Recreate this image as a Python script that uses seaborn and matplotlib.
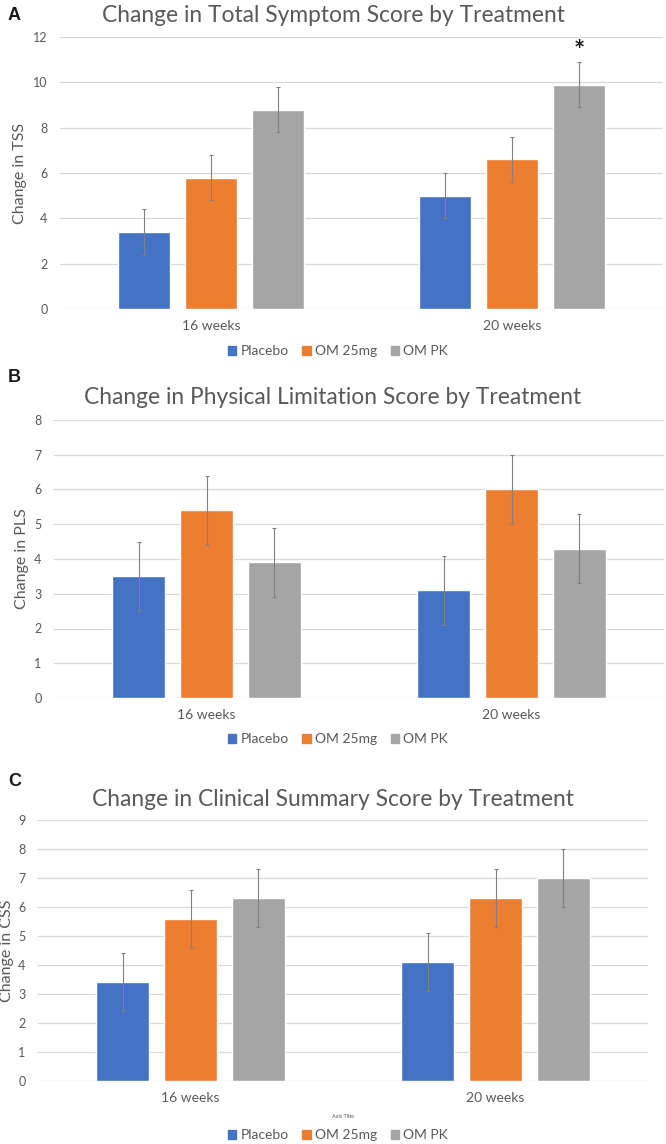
import matplotlib
matplotlib.use("Agg")
import matplotlib.pyplot as plt
import seaborn as sns
import pandas as pd
import numpy as np

weeks = ["16 weeks", "20 weeks"]
treatments = ["Placebo", "OM 25mg", "OM PK"]
colors = ["#4472C4", "#ED7D31", "#A5A5A5"]

# values listed week by week, in treatment order
tss_values = [3.4, 5.8, 8.8, 5.0, 6.6, 9.9]
tss_err = [1.0, 1.0, 1.0, 1.0, 1.0, 1.0]
pls_values = [3.5, 5.4, 3.9, 3.1, 6.0, 4.3]
pls_err = [1.0, 1.0, 1.0, 1.0, 1.0, 1.0]
css_values = [3.4, 5.6, 6.3, 4.1, 6.3, 7.0]
css_err = [1.0, 1.0, 1.0, 1.0, 1.0, 1.0]

TEXT = "#595959"
GRID = "#D9D9D9"

sns.set_theme(style="white")
plt.rcParams["font.family"] = ["Lato", "DejaVu Sans"]

fig = plt.figure(figsize=(6.66, 11.44), dpi=100)
H = 1144.0
W = 666.0


def make_axes(left_px, right_px, top_px, bottom_px):
    return fig.add_axes([left_px / W, 1 - bottom_px / H,
                         (right_px - left_px) / W, (bottom_px - top_px) / H])


def panel(ax, values, errs, title, ylabel, ymax, ystep, letter, letter_y, title_y,
          ylabel_x, legend_y, star=False, axis_title=None):
    df = pd.DataFrame({
        "week": [w for w in weeks for _ in treatments],
        "treatment": treatments * len(weeks),
        "value": values,
        "err": errs,
    })
    sns.barplot(data=df, x="week", y="value", hue="treatment", order=weeks,
                hue_order=treatments, palette=colors, width=0.666, gap=0.22,
                errorbar=None, saturation=1, ax=ax, legend=False)
    lookup = df.set_index(["week", "treatment"])
    for cont, tr in zip(ax.containers, treatments):
        for bar, wk in zip(cont, weeks):
            xc = bar.get_x() + bar.get_width() / 2
            yv = bar.get_height()
            e = lookup.loc[(wk, tr), "err"]
            ax.errorbar(xc, yv, yerr=e, fmt="none", ecolor="#808080",
                        elinewidth=0.8, capsize=1.5, capthick=0.8, zorder=3)
            if star and wk == "20 weeks" and tr == "OM PK":
                ax.annotate("*", xy=(xc, yv + e), xytext=(0, -1),
                            textcoords="offset points", ha="center", va="bottom",
                            fontsize=19, color="#1a1a1a", fontweight="bold")
    ax.set_xlim(-0.5, 1.5)
    ax.set_ylim(0, ymax)
    ax.set_yticks(np.arange(0, ymax + 0.01, ystep))
    ax.yaxis.grid(True, color=GRID, lw=0.9)
    ax.set_axisbelow(True)
    for s in ax.spines.values():
        s.set_visible(False)
    ax.tick_params(axis="y", length=0, pad=9, labelsize=9, labelcolor=TEXT)
    ax.tick_params(axis="x", length=0, pad=8, labelsize=10, labelcolor=TEXT)
    ax.set_xlabel(axis_title if axis_title else "", fontsize=4, color=TEXT,
                  labelpad=7)
    ax.set_ylabel(ylabel, fontsize=11.5, color=TEXT)
    ax.yaxis.set_label_coords(ylabel_x, 0.5)
    fig.text(0.5, 1 - title_y / H, title, ha="center", va="center",
             fontsize=16.4, color=TEXT)
    fig.text(8 / W, 1 - letter_y / H, letter, ha="left", va="center",
             fontsize=13, fontweight="bold", color="#1a1a1a",
             family=["Liberation Sans", "DejaVu Sans"])
    handles = [plt.Rectangle((0, 0), 1, 1, color=c) for c in colors]
    fig.legend(handles, treatments, loc="center", ncol=3,
               bbox_to_anchor=(338 / W, 1 - legend_y / H), frameon=False,
               fontsize=10, labelcolor=TEXT, handlelength=0.6,
               handleheight=0.6, handletextpad=0.3, columnspacing=1.0)


ax_a = make_axes(60, 663, 37, 309)
panel(ax_a, tss_values, tss_err, "Change in Total Symptom Score by Treatment",
      "Change in TSS", 12, 2, "A", 16, 16, -0.055, 351, star=True)

ax_b = make_axes(54, 664, 420, 698)
panel(ax_b, pls_values, pls_err, "Change in Physical Limitation Score by Treatment",
      "Change in PLS", 8, 1, "B", 377, 398, -0.041, 739)

ax_c = make_axes(38, 648, 820, 1081)
panel(ax_c, css_values, css_err, "Change in Clinical Summary Score by Treatment",
      "Change in CSS", 9, 1, "C", 782, 800, -0.04, 1135, axis_title="Axis Title")

fig.savefig("out.png", dpi=100)
plt.close(fig)
